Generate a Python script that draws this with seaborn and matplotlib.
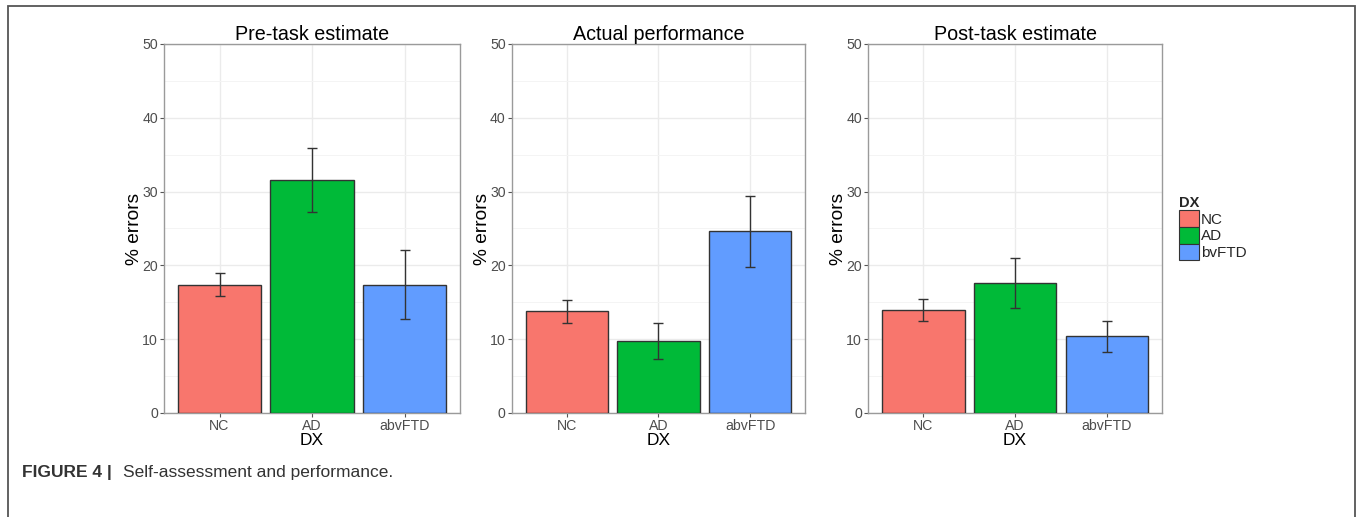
import seaborn as sns
import matplotlib.pyplot as plt
import matplotlib.patches as mpatches
import pandas as pd

groups = ["NC", "AD", "abvFTD"]
legend_labels = ["NC", "AD", "bvFTD"]
panels = ["Pre-task estimate", "Actual performance", "Post-task estimate"]

pre_mean = [17.4, 31.6, 17.4]
pre_lo = [15.8, 27.3, 12.7]
pre_hi = [19.0, 35.9, 22.1]

act_mean = [13.8, 9.8, 24.6]
act_lo = [12.2, 7.3, 19.8]
act_hi = [15.3, 12.2, 29.4]

post_mean = [14.0, 17.6, 10.4]
post_lo = [12.4, 14.2, 8.3]
post_hi = [15.5, 21.0, 12.5]

colors = ["#F8766D", "#00BA38", "#619CFF"]

sns.set_theme(style="white")
plt.rcParams['font.family'] = ['Liberation Sans', 'DejaVu Sans']

fig = plt.figure(figsize=(13.58, 5.17), dpi=100)

boxes = [(0.1208, 0.2180), (0.3770, 0.2158), (0.6392, 0.2165)]
data = [(pre_mean, pre_lo, pre_hi), (act_mean, act_lo, act_hi), (post_mean, post_lo, post_hi)]

for (left, width), title, (m, lo, hi) in zip(boxes, panels, data):
    ax = fig.add_axes([left, 0.2012, width, 0.7137])
    df = pd.DataFrame({"DX": groups, "err": m})
    sns.barplot(data=df, x="DX", y="err", hue="DX", palette=colors, width=0.9,
                saturation=1, edgecolor="#333333", linewidth=1.0, legend=False,
                ax=ax, zorder=3)
    yerr = [[a - b for a, b in zip(m, lo)], [c - a for a, c in zip(m, hi)]]
    ax.errorbar(range(3), m, yerr=yerr, fmt="none", ecolor="#333333",
                elinewidth=1.0, capsize=3.5, capthick=1.0, zorder=4)
    ax.set_xlim(-0.6, 2.6)
    ax.set_ylim(0, 50)
    ax.set_yticks([0, 10, 20, 30, 40, 50])
    ax.set_yticks([5, 15, 25, 35, 45], minor=True)
    ax.grid(True, which="major", color="#EBEBEB", linewidth=1.0, zorder=0)
    ax.grid(True, which="minor", axis="y", color="#F4F4F4", linewidth=0.7, zorder=0)
    ax.set_axisbelow(True)
    for s in ax.spines.values():
        s.set_color("#9A9A9A")
        s.set_linewidth(1.0)
    ax.tick_params(axis="both", which="major", direction="out", length=3, width=0.8,
                   color="#555555", labelsize=10.2, labelcolor="#4D4D4D", pad=1.5,
                   bottom=True, left=True)
    ax.tick_params(axis="y", which="minor", length=0)
    ax.set_title(title, fontsize=14.2, pad=3, color="black")
    ax.set_xlabel("DX", fontsize=12.5, labelpad=0, color="black")
    ax.set_ylabel("% errors", fontsize=13.8, labelpad=-1, color="black")

handles = [mpatches.Patch(facecolor=c, edgecolor="#333333", linewidth=0.8, label=l)
           for c, l in zip(colors, legend_labels)]
leg = fig.legend(handles=handles, title="DX", loc="upper left", bbox_to_anchor=(0.864, 0.632),
                 frameon=False, fontsize=11, handlelength=1.3, handleheight=1.3,
                 handletextpad=0.1, labelspacing=0.0, borderaxespad=0)
leg.get_title().set_fontweight("bold")
leg.get_title().set_fontsize(10.5)
leg._legend_box.align = "left"

# outer frame of the figure panel
frame = mpatches.Rectangle((8 / 1358, -0.1), (1355 - 8) / 1358, 1.1 - 6 / 517,
                           transform=fig.transFigure, fill=False,
                           edgecolor="#555555", linewidth=1.3)
fig.add_artist(frame)

fig.text(22 / 1358, 1 - 472 / 517, "FIGURE 4 |", fontsize=12.5, fontweight="bold",
         color="#333333", va="center", ha="left")
fig.text(123 / 1358, 1 - 472 / 517, "Self-assessment and performance.", fontsize=12.5,
         color="#333333", va="center", ha="left")

fig.savefig("out.png", dpi=100)
